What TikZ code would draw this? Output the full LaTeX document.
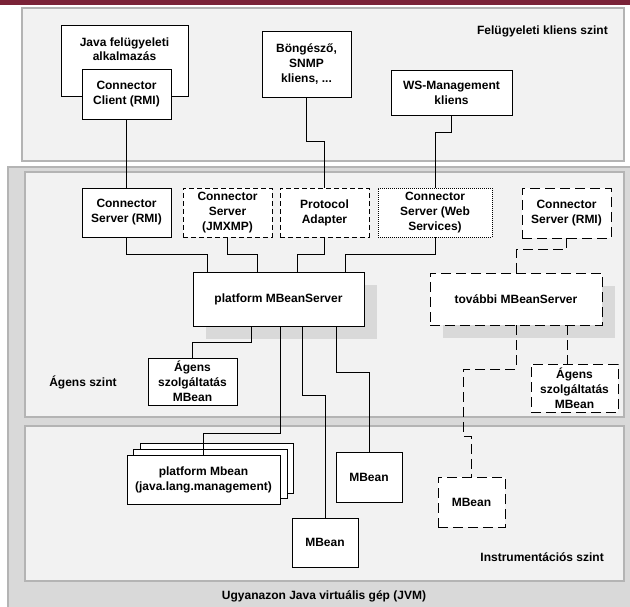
\documentclass[tikz,border=0pt]{standalone}
\usepackage{fontspec}
\setmainfont{Liberation Sans}
\usetikzlibrary{positioning,shadows}

\definecolor{topbar}{HTML}{7A2237}
\definecolor{panelfill}{HTML}{F2F2F2}
\definecolor{jvmfill}{HTML}{D9D9D9}
\definecolor{paneldraw}{HTML}{B4B4B4}

\begin{document}
\begin{tikzpicture}[x=1pt,y=-1pt,
  box/.style={draw,fill=white,align=center,line width=0.8pt,minimum width=89pt,minimum height=49pt,inner sep=1pt,font=\bfseries\fontsize{12}{15}\selectfont},
  lab/.style={align=center,inner sep=0pt,font=\bfseries\fontsize{12}{15}\selectfont},
  panel/.style={draw=paneldraw,fill=panelfill,line width=1.2pt},
  sdash/.style={dash pattern=on 5pt off 3pt},
  ldash/.style={dash pattern=on 10pt off 5pt},
  link/.style={line width=0.8pt},
  mbshadow/.style={drop shadow={shadow xshift=13pt,shadow yshift=-13pt,fill=jvmfill,opacity=1}}]
\useasboundingbox (0,0) rectangle (630,607);
\clip (0,0) rectangle (630,607);
\fill[white] (0,0) rectangle (630,607);
\fill[topbar] (0,0) rectangle (630,5);
% levels
\draw[panel] (22,8) rectangle (624,161);
\draw[panel,fill=jvmfill] (8,167) rectangle (640,620);
\draw[panel] (25,172) rectangle (624,417);
\draw[panel] (25,426) rectangle (624,581);
\node (lvlclient) [lab,anchor=east] at (608,31) {Felügyeleti kliens szint};
\node (lvlagent) [lab] at (83,382) {Ágens szint};
\node (lvlinstr) [lab,anchor=east] at (604,557) {Instrumentációs szint};
\node (lvljvm) [lab] at (324,596) {Ugyanazon Java virtuális gép (JVM)};
% client level
\node (japp) [box,minimum width=127pt,minimum height=71pt,
  label={[lab,anchor=north,yshift=-13pt]north:Java felügyeleti\\[-1pt]alkalmazás}] at (124.5,60.5) {};
\node (cclient) [box,minimum height=50pt] at (126.5,94) {Connector\\Client (RMI)};
\node (browser) [box,minimum height=66pt] at (306.5,64) {Böngésző,\\SNMP\\kliens, ...};
\node (wsman) [box,minimum width=121pt,minimum height=45pt] at (451.5,92.5) {WS-Management\\kliens};
% agent level
\node (csrmi) [box] at (126.5,212.5) {Connector\\Server (RMI)};
\node (csjmxmp) [box,sdash] at (227.5,212.5) {Connector\\Server\\(JMXMP)};
\node (padapter) [box,sdash] at (324.5,212.5) {Protocol\\Adapter};
\node (csws) [box,minimum width=114pt,dash pattern=on 1pt off 1pt] at (435,212.5) {Connector\\Server (Web\\Services)};
\node (csrmib) [box,ldash,minimum height=50pt] at (566.5,213) {Connector\\Server (RMI)};
\node (pmbs) [box,mbshadow,minimum width=171pt,minimum height=54pt] at (278.5,299) {platform MBeanServer};
\node (tmbs) [box,mbshadow,ldash,minimum width=172pt,minimum height=52pt] at (516,299) {további MBeanServer};
\node (agsvc) [box,minimum height=47pt] at (192.5,381.5) {Ágens\\szolgáltatás\\MBean};
\node (agsvcb) [box,ldash,minimum width=87pt,minimum height=48pt] at (574.5,388) {Ágens\\szolgáltatás\\MBean};
% instrumentation level
\node (pmbback) [box,minimum width=153pt,minimum height=50pt] at (216.5,468) {};
\node (pmbmid) [box,minimum width=154pt,minimum height=49pt] at (210,473.5) {};
\node (pmbean) [box,minimum width=153pt,minimum height=49pt] at (203.5,479.5) {platform Mbean\\(java.lang.management)};
\node (mbeana) [box,minimum width=66pt,minimum height=50pt] at (369,477) {MBean};
\node (mbeanb) [box,minimum width=66pt,minimum height=49pt] at (325,542.5) {MBean};
\node (mbeanc) [box,ldash,minimum width=67pt,minimum height=50pt] at (471.5,502) {MBean};
% connectors
\draw[link] (cclient) -- (csrmi);
\draw[link] (browser.south) -- ++(0,44) -| (padapter.north);
\draw[link] (wsman.south) -- ++(0,17) -| (csws.north);
\draw[link] (csrmi.south) -- ++(0,17) -| ([xshift=15pt]pmbs.north west);
\draw[link] (csjmxmp.south) -- ++(0,17) -| ([xshift=65pt]pmbs.north west);
\draw[link] (padapter.south) -- ++(0,17) -| ([xshift=105pt]pmbs.north west);
\draw[link] (csws.south) -- ++(0,17) -| ([xshift=153pt]pmbs.north west);
\draw[link] ([xshift=59pt]pmbs.south west) -- ++(0,16) -| (agsvc.north);
\draw[link] ([xshift=88pt]pmbs.south west) -- ++(0,107) -| (pmbean.north);
\draw[link] ([xshift=110pt]pmbs.south west) -- ++(0,69) -| (mbeanb.north);
\draw[link] ([xshift=144pt]pmbs.south west) -- ++(0,46) -| (mbeana.north);
\draw[link,ldash] (csrmib.south) -- ++(0,11) -| (tmbs.north);
\draw[link,ldash] (tmbs.south) -- ++(0,44) -| ++(-53,67) -| (mbeanc.north);
\draw[link,ldash] ([xshift=51pt]tmbs.south) -- ([xshift=-7.5pt]agsvcb.north);
\end{tikzpicture}
\end{document}
